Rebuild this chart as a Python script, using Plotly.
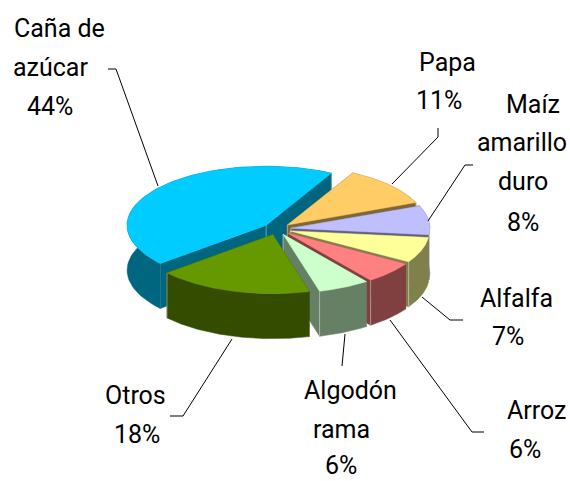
import numpy as np
import plotly.graph_objects as go

# data, clockwise from the start angle
categories = ['Papa', 'Maíz amarillo duro', 'Alfalfa', 'Arroz', 'Algodón rama', 'Otros', 'Caña de azúcar']
values = [11, 8, 7, 6, 6, 18, 44]
top_colors = ['#FFCC66', '#BFBFFF', '#FFFF99', '#FF8080', '#CCFFCC', '#669900', '#00CCFF']
side_colors = ['#806633', '#60607F', '#80804D', '#804040', '#668066', '#334C00', '#006680']

# pie geometry in pixels
CX, CY = 277, 229
RX, RY = 139, 59
DEPTH = 45
EXPLODE = 14
START = 62

# label lines (centre x, centre y) and leader lines, one entry per category
label_lines = [
    [('Papa', 447, 62), ('11%', 439, 100)],
    [('Maíz', 533, 104), ('amarillo', 522, 142), ('duro', 523, 181), ('8%', 523, 222)],
    [('Alfalfa', 516, 298), ('7%', 508, 336)],
    [('Arroz', 536, 410), ('6%', 525, 449)],
    [('Algodón', 350, 390), ('rama', 341, 429), ('6%', 341, 465)],
    [('Otros', 135, 395), ('18%', 137, 434)],
    [('Caña de', 59, 28), ('azúcar', 50, 67), ('44%', 50, 106)],
]
leaders = [
    ([438, 438, 392], [128, 137, 184]),
    ([473, 465, 428], [165, 165, 221]),
    ([463, 450, 422], [320, 320, 297]),
    ([484, 472, 390], [432, 432, 320]),
    ([342, 345], [366, 334]),
    ([170, 183, 232], [416, 416, 339]),
    ([108, 116, 158], [69, 69, 186]),
]


def add_poly(fig, x, y, color):
    fig.add_trace(go.Scatter(x=x, y=y, mode='lines', fill='toself', fillcolor=color,
                             line=dict(width=0.5, color=color), hoverinfo='skip'))


fig = go.Figure()

# back slices first so the front ones paint over them
edges = START - np.cumsum([0] + values) * 3.6
draw_order = [6, 0, 1, 2, 3, 4, 5]
for i in draw_order:
    a0, a1 = np.radians(edges[i]), np.radians(edges[i + 1])
    mid = (a0 + a1) / 2
    ax = CX + EXPLODE * np.cos(mid)
    ay = CY - EXPLODE * RY / RX * np.sin(mid)
    t = np.linspace(a0, a1, 80)
    arc_x = ax + RX * np.cos(t)
    arc_y = ay - RY * np.sin(t)

    # cut faces and outer wall
    add_poly(fig, [ax, arc_x[0], arc_x[0], ax, ax], [ay, arc_y[0], arc_y[0] + DEPTH, ay + DEPTH, ay], side_colors[i])
    add_poly(fig, [ax, arc_x[-1], arc_x[-1], ax, ax], [ay, arc_y[-1], arc_y[-1] + DEPTH, ay + DEPTH, ay], side_colors[i])
    add_poly(fig, list(arc_x) + list(arc_x[::-1]), list(arc_y) + list(arc_y[::-1] + DEPTH), side_colors[i])

    # light corner edges
    for ex, ey in [(arc_x[-1], arc_y[-1]), (ax, ay)]:
        fig.add_trace(go.Scatter(x=[ex, ex], y=[ey, ey + DEPTH], mode='lines',
                                 line=dict(width=1, color='rgba(255,255,255,0.4)'), hoverinfo='skip'))

    add_poly(fig, [ax] + list(arc_x) + [ax], [ay] + list(arc_y) + [ay], top_colors[i])

for lx, ly in leaders:
    fig.add_trace(go.Scatter(x=lx, y=ly, mode='lines', line=dict(width=1, color='#000000'), hoverinfo='skip'))

for lines in label_lines:
    for text, x, y in lines:
        fig.add_annotation(x=x, y=y, text=text, showarrow=False, xanchor='center', yanchor='middle',
                           font=dict(family='Roboto, Liberation Sans', size=25, color='#000000'))

fig.update_layout(
    width=570,
    height=481,
    margin=dict(l=0, r=0, t=0, b=0),
    showlegend=False,
    paper_bgcolor='white',
    plot_bgcolor='white',
    xaxis=dict(range=[0, 570], visible=False),
    yaxis=dict(range=[481, 0], visible=False),
)

fig.write_html("out.html", config=dict(displayModeBar=False), post_script="document.body.style.margin='0';")
